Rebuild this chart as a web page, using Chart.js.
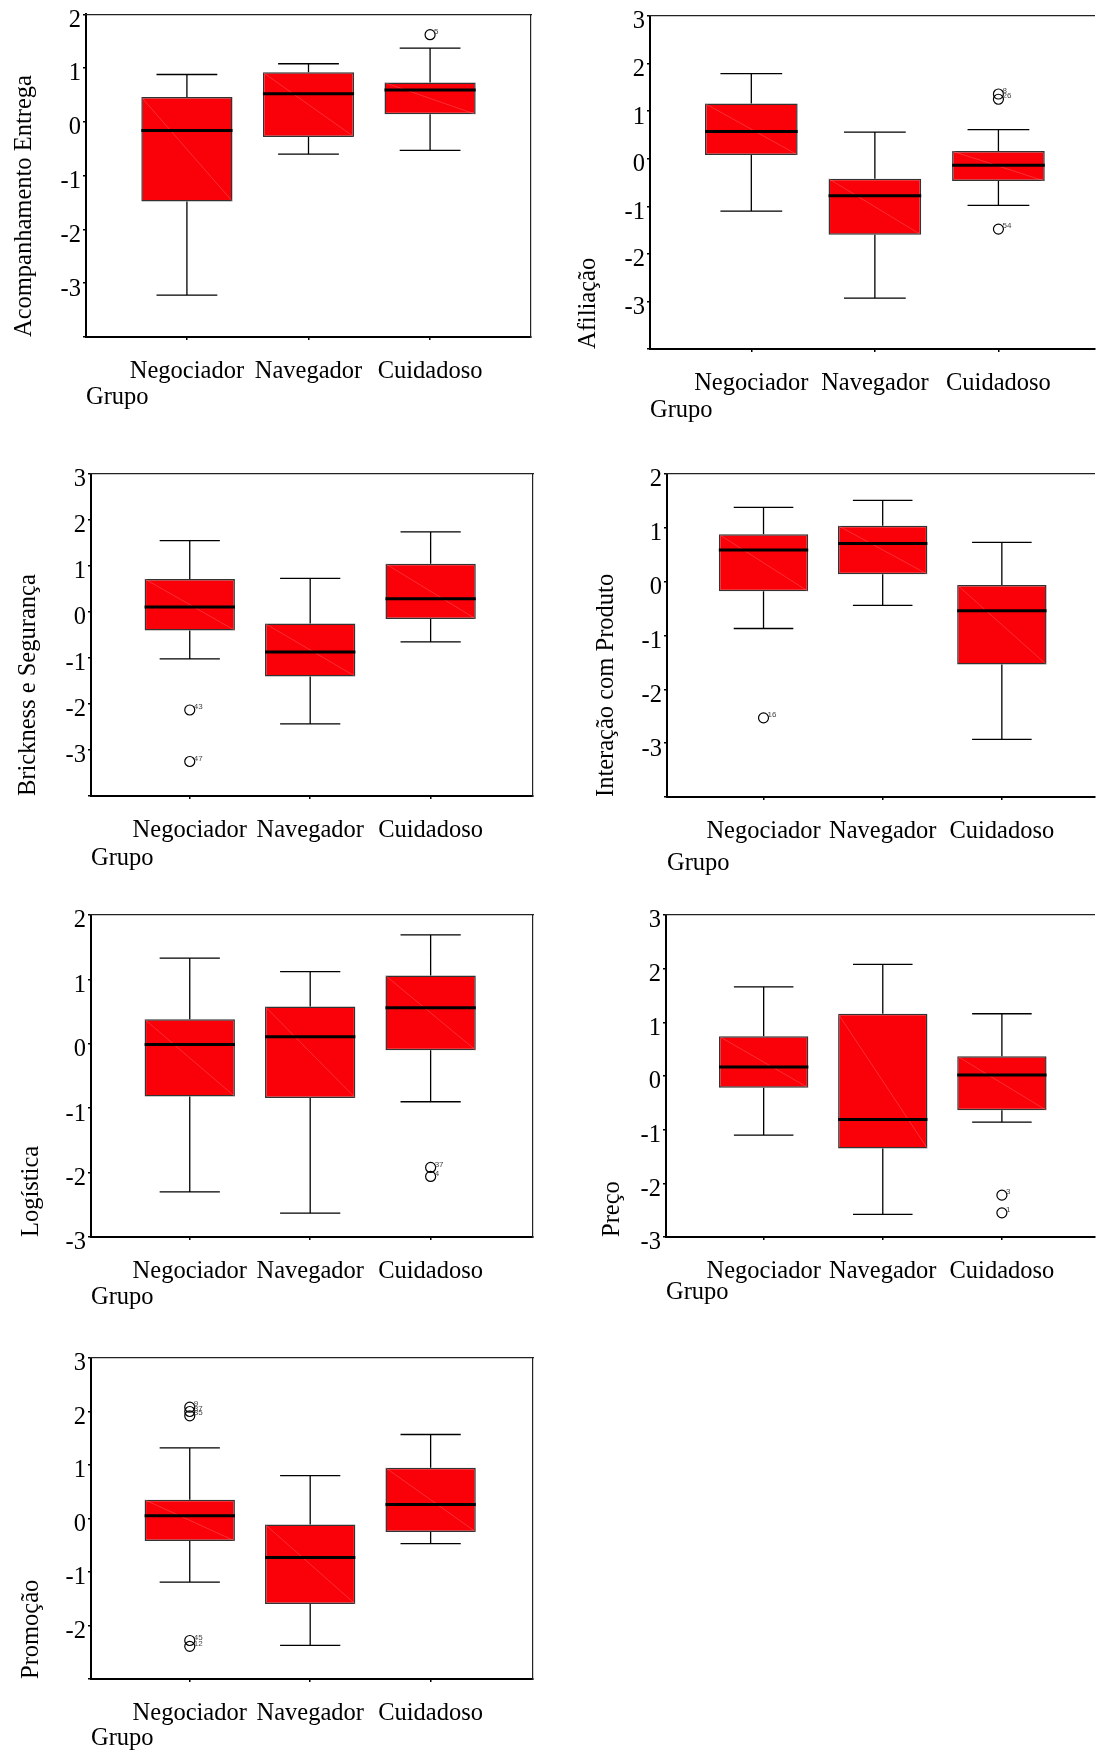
<!DOCTYPE html>
<html>
<head>
<meta charset="utf-8">
<script src="https://cdn.jsdelivr.net/npm/chart.js@4.4.0/dist/chart.umd.min.js"></script>
<style>
body { margin:0; background:#fff; width:1101px; height:1753px; position:relative; overflow:hidden; }
canvas { position:absolute; }
</style>
</head>
<body>
<canvas id="c1"></canvas>
<canvas id="c2"></canvas>
<canvas id="c3"></canvas>
<canvas id="c4"></canvas>
<canvas id="c5"></canvas>
<canvas id="c6"></canvas>
<canvas id="c7"></canvas>
<script>
var grupos = ['Negociador', 'Navegador', 'Cuidadoso'];

// por grupo: [bigode inferior, Q1, mediana, Q3, bigode superior]
var acompanhamento = [[-3.22, -1.48, -0.16, 0.46, 0.88], [-0.60, -0.28, 0.52, 0.92, 1.08], [-0.53, 0.14, 0.59, 0.73, 1.37]];
var afiliacao = [[-1.10, 0.08, 0.57, 1.16, 1.79], [-2.93, -1.60, -0.78, -0.42, 0.56], [-0.98, -0.47, -0.14, 0.16, 0.61]];
var brickness = [[-1.02, -0.40, 0.11, 0.72, 1.55], [-2.43, -1.40, -0.87, -0.25, 0.73], [-0.65, -0.15, 0.29, 1.05, 1.74]];
var interacao = [[-0.87, -0.18, 0.59, 0.88, 1.38], [-0.44, 0.14, 0.71, 1.04, 1.51], [-2.93, -1.54, -0.54, -0.06, 0.73]];
var logistica = [[-2.30, -0.82, -0.01, 0.38, 1.33], [-2.63, -0.84, 0.11, 0.58, 1.12], [-0.90, -0.10, 0.56, 1.06, 1.69]];
var preco = [[-1.10, -0.22, 0.17, 0.74, 1.66], [-2.58, -1.35, -0.81, 1.16, 2.08], [-0.86, -0.64, 0.02, 0.37, 1.16]];
var promocao = [[-1.19, -0.42, 0.05, 0.35, 1.32], [-2.37, -1.60, -0.73, -0.11, 0.80], [-0.47, -0.25, 0.26, 0.95, 1.57]];

// outliers: grupo, valor, caso
var acompanhamentoOut = [{g: 2, y: 1.62, id: '5'}];
var afiliacaoOut = [{g: 2, y: 1.36, id: '8'}, {g: 2, y: 1.25, id: '26'}, {g: 2, y: -1.48, id: '54'}];
var bricknessOut = [{g: 0, y: -2.13, id: '43'}, {g: 0, y: -3.25, id: '47'}];
var interacaoOut = [{g: 0, y: -2.53, id: '16'}];
var logisticaOut = [{g: 2, y: -1.92, id: '37'}, {g: 2, y: -2.06, id: '4'}];
var precoOut = [{g: 2, y: -2.22, id: '3'}, {g: 2, y: -2.55, id: '1'}];
var promocaoOut = [{g: 0, y: 2.08, id: '9'}, {g: 0, y: 2.00, id: '37'}, {g: 0, y: 1.92, id: '35'}, {g: 0, y: -2.28, id: '45'}, {g: 0, y: -2.39, id: '12'}];

// rotulos do eixo y
var ticksAcomp = [2, 1, 0, -1, -2, -3];
var ticksAfil = [3, 2, 1, 0, -1, -2, -3];
var ticksBrick = [3, 2, 1, 0, -1, -2, -3];
var ticksInter = [2, 1, 0, -1, -2, -3];
var ticksLog = [2, 1, 0, -1, -2, -3];
var ticksPreco = [3, 2, 1, 0, -1, -2, -3];
var ticksPromo = [3, 2, 1, 0, -1, -2];

Chart.defaults.font.family = '"Liberation Serif", "Times New Roman", serif';
Chart.defaults.font.size = 24.5;
Chart.defaults.color = '#000';

var rotulosOutliers = {
    id: 'rotulosOutliers',
    afterDatasetsDraw(chart) {
        var ctx = chart.ctx;
        chart.data.datasets.forEach(function (ds, k) {
            if (!ds.ids) return;
            chart.getDatasetMeta(k).data.forEach(function (pt, i) {
                ctx.save();
                ctx.font = '8px "Liberation Sans", sans-serif';
                ctx.fillStyle = '#444';
                ctx.textBaseline = 'middle';
                ctx.fillText(ds.ids[i], pt.x + 4, pt.y - 3);
                ctx.restore();
            });
        });
    }
};

function painel(id, dados, fora, rotulos, titulo, lay) {
    var cv = document.getElementById(id);
    var cx = lay.canvas[0], cy = lay.canvas[1], cw = lay.canvas[2], ch = lay.canvas[3];
    var L = lay.area[0], T = lay.area[1], R = lay.area[2], B = lay.area[3];
    cv.style.left = cx + 'px';
    cv.style.top = cy + 'px';
    cv.width = cw;
    cv.height = ch;

    var caixas = [], bigodes = [], medianas = [], diagonais = [];
    dados.forEach(function (d, i) {
        caixas.push({x: i, y: [d[1], d[3]]});
        bigodes.push({x: i, y: d[0]}, {x: i, y: d[1]}, {x: i, y: null},
            {x: i, y: d[3]}, {x: i, y: d[4]}, {x: i, y: null},
            {x: i - 0.25, y: d[0]}, {x: i + 0.25, y: d[0]}, {x: i, y: null},
            {x: i - 0.25, y: d[4]}, {x: i + 0.25, y: d[4]}, {x: i, y: null});
        medianas.push({x: i - 0.375, y: d[2]}, {x: i + 0.375, y: d[2]}, {x: i, y: null});
        diagonais.push({x: i - 0.375, y: d[3]}, {x: i + 0.375, y: d[1]}, {x: i, y: null});
    });
    var pontos = fora.map(function (o) { return {x: o.g, y: o.y}; });

    var eixo = {
        grid: {offset: false, drawOnChartArea: false, tickLength: 3, color: '#000', lineWidth: 1.5},
        border: {color: '#000', width: 2}
    };

    new Chart(cv, {
        type: 'bar',
        data: {
            datasets: [
                {type: 'scatter', data: pontos, ids: fora.map(function (o) { return o.id; }), order: 0,
                    pointStyle: 'circle', pointRadius: 5, borderColor: '#000', borderWidth: 1.2, backgroundColor: 'rgba(0,0,0,0)'},
                {type: 'line', data: medianas, order: 1, borderColor: '#000', borderWidth: 3, pointRadius: 0, spanGaps: false},
                {type: 'line', data: diagonais, order: 2, borderColor: 'rgba(255,130,130,0.6)', borderWidth: 0.6, pointRadius: 0, spanGaps: false},
                {type: 'line', data: bigodes, order: 3, borderColor: '#000', borderWidth: 1.3, pointRadius: 0, spanGaps: false},
                {type: 'bar', data: caixas, order: 4, backgroundColor: '#fa0008', borderColor: '#333',
                    borderWidth: 1.5, borderSkipped: false, categoryPercentage: 1, barPercentage: 0.75}
            ]
        },
        options: {
            responsive: false,
            animation: false,
            events: [],
            layout: {padding: {left: 0, top: T - cy, right: cx + cw - R, bottom: cy + ch - B - lay.xh}},
            plugins: {legend: {display: false}, tooltip: {enabled: false}},
            scales: {
                x: Object.assign({}, eixo, {
                    type: 'linear', min: lay.x[0], max: lay.x[1], offset: false,
                    afterBuildTicks: function (s) { s.ticks = grupos.map(function (g, i) { return {value: i}; }); },
                    afterFit: function (s) { s.height = lay.xh; },
                    ticks: {autoSkip: false, maxRotation: 0, minRotation: 0, padding: 17,
                        callback: function (v) { return grupos[v]; }},
                    title: {display: true, text: 'Grupo', align: 'start', padding: 0}
                }),
                y: Object.assign({}, eixo, {
                    type: 'linear', min: lay.y[0], max: lay.y[1],
                    afterFit: function (s) { s.width = L - cx; },
                    ticks: {stepSize: 1, padding: 2, labelOffset: 6, font: {lineHeight: 1},
                        callback: function (v) { return rotulos.indexOf(v) >= 0 ? String(v) : ''; }},
                    title: {display: true, text: titulo, align: 'start', padding: {top: lay.tp, bottom: 0}}
                }),
                x2: {type: 'linear', position: 'top', ticks: {display: false},
                    grid: {display: false, drawTicks: false}, border: {color: '#222', width: 1.2}},
                y2: {type: 'linear', position: 'right', display: lay.dir, ticks: {display: false},
                    grid: {display: false, drawTicks: false}, border: {color: '#222', width: 1.2}}
            }
        },
        plugins: [rotulosOutliers]
    });
}

painel('c1', acompanhamento, acompanhamentoOut, ticksAcomp, 'Acompanhamento Entrega',
    {canvas: [0, 0, 550, 420], area: [86, 13, 531, 337], x: [-0.83, 2.83], y: [-4, 2], xh: 75, tp: 9.5, dir: true});
painel('c2', afiliacao, afiliacaoOut, ticksAfil, 'Afiliação',
    {canvas: [550, 0, 551, 440], area: [650, 16, 1101, 349], x: [-0.82, 2.78], y: [-4, 3], xh: 76, tp: 23.7, dir: false});
painel('c3', brickness, bricknessOut, ticksBrick, 'Brickness e Segurança',
    {canvas: [0, 440, 550, 440], area: [91, 474, 533, 796], x: [-0.82, 2.85], y: [-4, 3], xh: 77, tp: 14.2, dir: true});
painel('c4', interacao, interacaoOut, ticksInter, 'Interação com Produto',
    {canvas: [550, 440, 551, 440], area: [667, 474, 1101, 797], x: [-0.81, 2.78], y: [-4, 2], xh: 81, tp: 41.6, dir: false});
painel('c5', logistica, logisticaOut, ticksLog, 'Logística',
    {canvas: [0, 890, 550, 430], area: [91, 915, 533, 1237], x: [-0.82, 2.85], y: [-3, 2], xh: 75, tp: 16.9, dir: true});
painel('c6', preco, precoOut, ticksPreco, 'Preço',
    {canvas: [550, 890, 551, 430], area: [666, 915, 1101, 1237], x: [-0.82, 2.78], y: [-3, 3], xh: 70, tp: 48.3, dir: false});
painel('c7', promocao, promocaoOut, ticksPromo, 'Promoção',
    {canvas: [0, 1330, 550, 423], area: [91, 1358, 533, 1679], x: [-0.82, 2.85], y: [-3, 3], xh: 74, tp: 16.9, dir: true});
</script>
</body>
</html>
